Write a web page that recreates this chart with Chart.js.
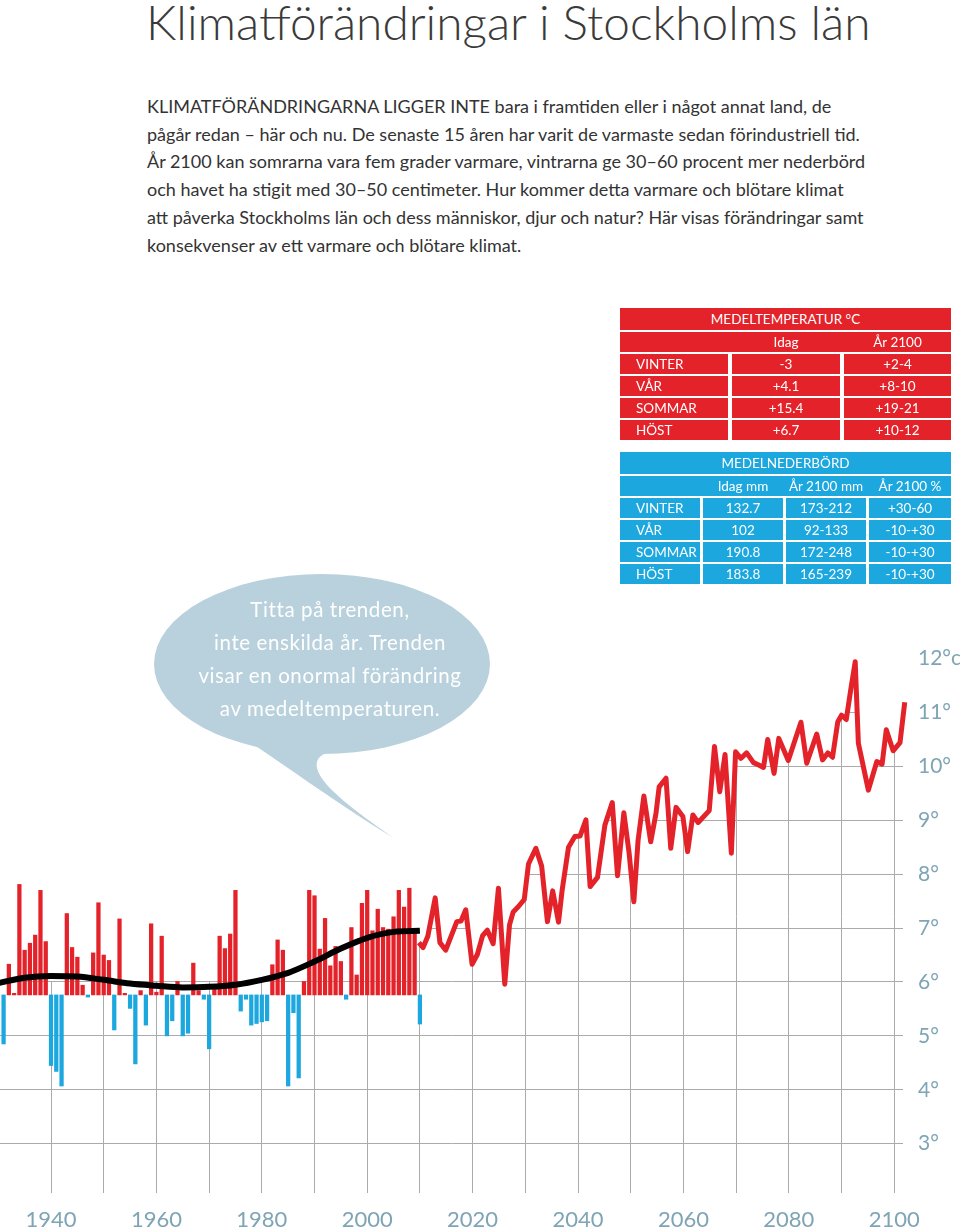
<!DOCTYPE html>
<html lang="sv">
<head>
<meta charset="utf-8">
<title>Klimatförändringar i Stockholms län</title>
<script src="https://cdn.jsdelivr.net/npm/chart.js@4.4.1/dist/chart.umd.min.js"></script>
<style>
  html, body { margin: 0; padding: 0; background: #fff; }
  body { width: 960px; height: 1231px; position: relative; overflow: hidden; font-family: Lato, "Open Sans", sans-serif; }
  #chartBox { position: absolute; left: 0; top: 0; width: 960px; height: 1231px; }
  h1 { position: absolute; left: 146px; top: -7px; margin: 0; font-weight: 300; font-size: 47.8px; color: #3a3a3a; white-space: nowrap; }
  .ingress { position: absolute; left: 147px; top: 93px; margin: 0; font-size: 18px; line-height: 27.7px; color: #333; white-space: nowrap; }
  .tbl { position: absolute; left: 620px; width: 331px; color: #fff; font-size: 13.5px; z-index: 2; }
  .tbl div { position: absolute; display: flex; align-items: center; justify-content: center; }
  .tbl div.lbl { justify-content: flex-start; padding-left: 16px; box-sizing: border-box; }
  #bubble { position: absolute; left: 0; top: 0; z-index: 2; }
</style>
</head>
<body>
<h1>Klimatförändringar i Stockholms län</h1>
<p class="ingress">KLIMATFÖRÄNDRINGARNA LIGGER INTE bara i framtiden eller i något annat land, de<br>
pågår redan – här och nu. De senaste 15 åren har varit de varmaste sedan förindustriell tid.<br>
År 2100 kan somrarna vara fem grader varmare, vintrarna ge 30–60 procent mer nederbörd<br>
och havet ha stigit med 30–50 centimeter. Hur kommer detta varmare och blötare klimat<br>
att påverka Stockholms län och dess människor, djur och natur? Här visas förändringar samt<br>
konsekvenser av ett varmare och blötare klimat.</p>

<div class="tbl" id="tblTemp" style="top:308px"></div>
<div class="tbl" id="tblNeder" style="top:452px"></div>

<svg id="bubble" width="960" height="860">
  <ellipse cx="322" cy="664" rx="168" ry="90" fill="#b8d1dc"/>
  <path d="M 250 742 C 300 776, 350 812, 394 838 C 356 812, 321 786, 317 768 C 315 758, 322 752, 340 750 Z" fill="#b8d1dc"/>
  <g fill="#fff" font-family="Lato, 'Open Sans', sans-serif" font-size="20.5" text-anchor="middle" letter-spacing="0.6">
    <text x="330" y="617">Titta på trenden,</text>
    <text x="330" y="650">inte enskilda år. Trenden</text>
    <text x="330" y="683">visar en onormal förändring</text>
    <text x="330" y="716">av medeltemperaturen.</text>
  </g>
</svg>

<div id="chartBox"><canvas id="klimat"></canvas></div>

<script>
// Tabeller
var arstider = ['VINTER', 'VÅR', 'SOMMAR', 'HÖST'];
var tempIdag = ['-3', '+4.1', '+15.4', '+6.7'];
var temp2100 = ['+2-4', '+8-10', '+19-21', '+10-12'];
var nederIdag = ['132.7', '102', '190.8', '183.8'];
var neder2100mm = ['173-212', '92-133', '172-248', '165-239'];
var neder2100pct = ['+30-60', '-10-+30', '-10-+30', '-10-+30'];

// Årsmedeltemperatur (staplar), 1931-2010
var stapelAr = [1931,1932,1933,1934,1935,1936,1937,1938,1939,1940,
  1941,1942,1943,1944,1945,1946,1947,1948,1949,1950,
  1951,1952,1953,1954,1955,1956,1957,1958,1959,1960,
  1961,1962,1963,1964,1965,1966,1967,1968,1969,1970,
  1971,1972,1973,1974,1975,1976,1977,1978,1979,1980,
  1981,1982,1983,1984,1985,1986,1987,1988,1989,1990,
  1991,1992,1993,1994,1995,1996,1997,1998,1999,2000,
  2001,2002,2003,2004,2005,2006,2007,2008,2009,2010];
var stapelTemp = [4.85,6.33,5.79,7.81,6.59,6.72,6.87,7.70,6.75,4.45,
  4.34,4.07,7.27,6.64,6.46,5.94,5.72,6.54,7.47,6.50,
  6.40,5.11,7.17,5.79,5.51,4.48,5.84,5.20,7.08,5.81,
  6.85,5.00,5.28,6.01,5.00,5.05,6.35,5.84,5.68,4.76,
  5.92,6.85,6.62,6.89,7.70,5.46,5.68,5.20,5.23,5.26,
  5.28,6.32,6.78,6.59,4.07,5.43,4.22,6.01,7.70,7.60,
  6.61,7.18,6.30,6.66,6.38,5.68,7.01,6.13,7.46,7.70,
  6.95,7.35,7.01,6.98,7.21,7.70,7.39,7.74,6.95,5.22];
var stapelBas = 5.76;

// Trendlinje
var trendAr = [1930,1935,1940,1945,1950,1955,1960,1965,1970,1975,1980,1985,1990,1995,2000,2005,2010];
var trendTemp = [5.98,6.08,6.11,6.10,6.04,5.97,5.93,5.90,5.91,5.95,6.04,6.17,6.38,6.62,6.82,6.93,6.95];

// Scenario 2010-2100
var scenarioAr = [2009.8,2010.6,2011.5,2012.9,2013.8,2014.9,2017.0,2017.8,2018.7,2019.9,
  2020.9,2021.9,2022.8,2023.9,2024.9,2026.1,2027.0,2027.7,2028.7,2029.8,
  2030.6,2032.0,2033.1,2034.2,2035.2,2036.3,2037.0,2038.2,2039.4,2040.4,
  2041.5,2042.3,2043.7,2045.1,2046.5,2047.5,2048.7,2049.7,2050.6,2051.4,
  2052.5,2053.8,2054.8,2055.4,2056.7,2057.6,2058.6,2059.9,2060.8,2061.8,
  2062.8,2064.9,2065.9,2066.9,2067.9,2069.1,2069.9,2070.9,2072.0,2073.3,
  2074.2,2075.2,2076.0,2077.2,2078.1,2079.9,2082.3,2083.4,2085.3,2086.4,
  2087.4,2088.3,2089.3,2090.0,2090.9,2091.8,2092.6,2093.2,2095.1,2096.7,
  2097.7,2098.5,2099.8,2101.1,2102.0];
var scenarioTemp = [6.73,6.64,6.85,7.56,6.73,6.59,7.12,7.13,7.34,6.33,
  6.51,6.86,6.96,6.71,7.74,5.96,7.06,7.30,7.40,7.53,
  8.19,8.48,8.15,7.12,7.69,7.11,7.71,8.50,8.70,8.71,
  9.01,7.77,7.94,8.91,9.33,7.97,9.14,8.39,7.49,8.63,
  9.45,8.60,9.13,9.62,9.78,8.48,9.24,9.07,8.42,9.10,
  8.96,9.18,10.37,9.53,10.22,8.39,10.27,10.15,10.25,10.07,
  10.03,9.98,10.50,9.87,10.52,10.11,10.82,10.06,10.60,10.12,
  10.25,10.17,10.83,10.95,10.87,11.45,11.94,10.43,9.56,10.09,
  10.04,10.68,10.29,10.44,11.19];

var rod = '#e3222a';
var bla = '#1ca7df';
var axelFarg = '#7ea4b5';
var rutnat = '#ababab';

function cell(parent, cls, left, top, width, height, bg, text) {
  var d = document.createElement('div');
  if (cls) d.className = cls;
  d.style.left = left + 'px';
  d.style.top = top + 'px';
  d.style.width = width + 'px';
  d.style.height = height + 'px';
  d.style.background = bg;
  d.textContent = text;
  parent.appendChild(d);
}

function byggTabell(id, farg, rubrik, kolX, kolB, underrubriker, kolumner) {
  var t = document.getElementById(id);
  cell(t, '', 0, 0, 331, 22, farg, rubrik);
  cell(t, '', 0, 24, 331, 20, farg, '');
  underrubriker.forEach(function(u, i) {
    cell(t, '', kolX[i + 1] - 4, 24, kolB[i + 1] + 8, 20, 'transparent', u);
  });
  arstider.forEach(function(a, r) {
    var y = 46 + r * 22;
    cell(t, 'lbl', kolX[0], y, kolB[0], 20, farg, a);
    kolumner.forEach(function(k, c) {
      cell(t, '', kolX[c + 1], y, kolB[c + 1], 20, farg, k[r]);
    });
  });
}

byggTabell('tblTemp', rod, 'MEDELTEMPERATUR °C', [0, 112, 224], [108, 108, 107],
  ['Idag', 'År 2100'], [tempIdag, temp2100]);
byggTabell('tblNeder', bla, 'MEDELNEDERBÖRD', [0, 83, 166, 249], [80, 80, 80, 82],
  ['Idag mm', 'År 2100 mm', 'År 2100 %'], [nederIdag, neder2100mm, neder2100pct]);

// Maskyta som döljer rutnätet ovanför kurvorna
var maskData = [{x: 1930, y: 6.02}, {x: scenarioAr[0], y: 6.02}];
scenarioAr.forEach(function(ar, i) { maskData.push({x: ar, y: scenarioTemp[i]}); });

var ctx = document.getElementById('klimat').getContext('2d');
var chart = new Chart(ctx, {
  type: 'bar',
  data: {
    datasets: [
      {
        type: 'line',
        order: 10,
        data: maskData,
        borderWidth: 0,
        pointRadius: 0,
        fill: 'end',
        backgroundColor: '#ffffff'
      },
      {
        type: 'bar',
        order: 5,
        data: stapelAr.map(function(ar, i) { return {x: ar, y: stapelTemp[i]}; }),
        base: stapelBas,
        barThickness: 3.6,
        backgroundColor: function(c) {
          var v = c.raw ? c.raw.y : 0;
          return v >= stapelBas ? rod : bla;
        }
      },
      {
        type: 'line',
        order: 2,
        data: trendAr.map(function(ar, i) { return {x: ar, y: trendTemp[i]}; }),
        borderColor: '#000',
        borderWidth: 6,
        pointRadius: 0,
        cubicInterpolationMode: 'monotone',
        fill: false
      },
      {
        type: 'line',
        order: 1,
        data: scenarioAr.map(function(ar, i) { return {x: ar, y: scenarioTemp[i]}; }),
        borderColor: rod,
        borderWidth: 5,
        borderJoinStyle: 'round',
        pointRadius: 0,
        tension: 0,
        fill: false,
        clip: false
      }
    ]
  },
  options: {
    responsive: true,
    maintainAspectRatio: false,
    animation: false,
    layout: { padding: { top: 640, left: 0, right: 0, bottom: 0 } },
    plugins: { legend: { display: false }, tooltip: { enabled: false } },
    scales: {
      x: {
        type: 'linear',
        min: 1930.32,
        max: 2101.67,
        offset: false,
        grid: { color: rutnat, lineWidth: 1, drawTicks: false, offset: false },
        border: { display: false },
        ticks: {
          stepSize: 10,
          includeBounds: false,
          autoSkip: false,
          maxRotation: 0,
          padding: 14,
          color: axelFarg,
          font: { family: 'Lato', size: 22 },
          callback: function(v) { return v % 20 === 0 ? String(v) : ''; }
        },
        afterFit: function(s) { s.height = 38; s.paddingLeft = 0; s.paddingRight = 0; }
      },
      y: {
        type: 'linear',
        position: 'right',
        min: 2.085,
        max: 12.345,
        grid: { color: rutnat, lineWidth: 1, drawTicks: false },
        border: { display: false },
        ticks: {
          stepSize: 1,
          includeBounds: false,
          padding: 15,
          crossAlign: 'near',
          color: axelFarg,
          font: { family: 'Lato', size: 21 },
          callback: function(v) { return v === 12 ? '12°c' : v + '°'; }
        },
        afterFit: function(s) { s.width = 57; s.paddingTop = 0; s.paddingBottom = 0; }
      }
    }
  }
});
</script>
</body>
</html>
